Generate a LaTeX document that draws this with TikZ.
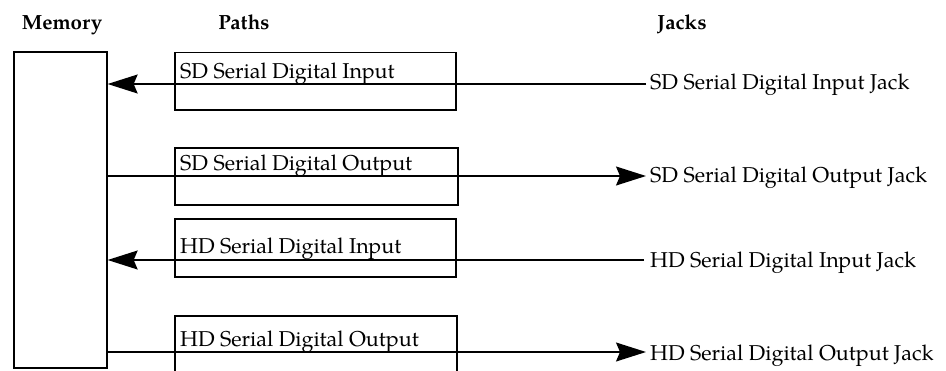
\documentclass[tikz,border=0pt]{standalone}
\usepackage{fontspec}
\setmainfont{texgyrepagella}[Extension=.otf, UprightFont=*-regular, BoldFont=*-bold]
\usetikzlibrary{arrows.meta}
\begin{document}
\begin{tikzpicture}[x=1pt,y=-1pt,
  box/.style={draw, line width=1.3pt, inner sep=0pt},
  lbl/.style={anchor=base west, inner sep=0pt, font=\fontsize{21.5}{24}\selectfont},
  hdr/.style={anchor=base, inner sep=0pt, font=\fontsize{20.5}{24}\selectfont\bfseries},
  conn/.style={line width=1.3pt},
  tip/.style={-{Stealth[length=30pt,width=19pt,inset=4pt]}}]
\useasboundingbox (0,0) rectangle (946,370);
% headers
\node[hdr] (hmem) at (62,29) {Memory};
\node[hdr] (hpath) at (244,29) {Paths};
\node[hdr] (hjack) at (682,29) {Jacks};
% memory
\node[box, minimum width=93pt, minimum height=316pt] (mem) at (60.5,210) {};
% path boxes
\node[box, minimum width=281pt, minimum height=57.5pt] (sdin) at (315.5,81.25) {};
\node[box, minimum width=283pt, minimum height=57pt] (sdout) at (316.5,176.5) {};
\node[box, minimum width=281pt, minimum height=58pt] (hdin) at (315.5,248) {};
\node[box, minimum width=282pt, minimum height=60pt] (hdout) at (316,346) {};
% path labels
\node[lbl] (lsdin) at (180,78) {SD Serial Digital Input};
\node[lbl] (lsdout) at (180,170) {SD Serial Digital Output};
\node[lbl] (lhdin) at (180,253) {HD Serial Digital Input};
\node[lbl] (lhdout) at (180,346) {HD Serial Digital Output};
% jack labels
\node[lbl] (jsdin) at (650,89) {SD Serial Digital Input Jack};
\node[lbl] (jsdout) at (650,182) {SD Serial Digital Output Jack};
\node[lbl] (jhdin) at (650,267) {HD Serial Digital Input Jack};
\node[lbl] (jhdout) at (650,360) {HD Serial Digital Output Jack};
% connector ends
\coordinate (csdin) at (646,84);
\coordinate (csdout) at (646,176);
\coordinate (chdin) at (644,260);
\coordinate (chdout) at (646,352);
\draw[conn,tip] (csdin) -- (mem.east |- csdin);
\draw[conn,tip] (mem.east |- csdout) -- (csdout);
\draw[conn,tip] (chdin) -- (mem.east |- chdin);
\draw[conn,tip] (mem.east |- chdout) -- (chdout);
\end{tikzpicture}
\end{document}
